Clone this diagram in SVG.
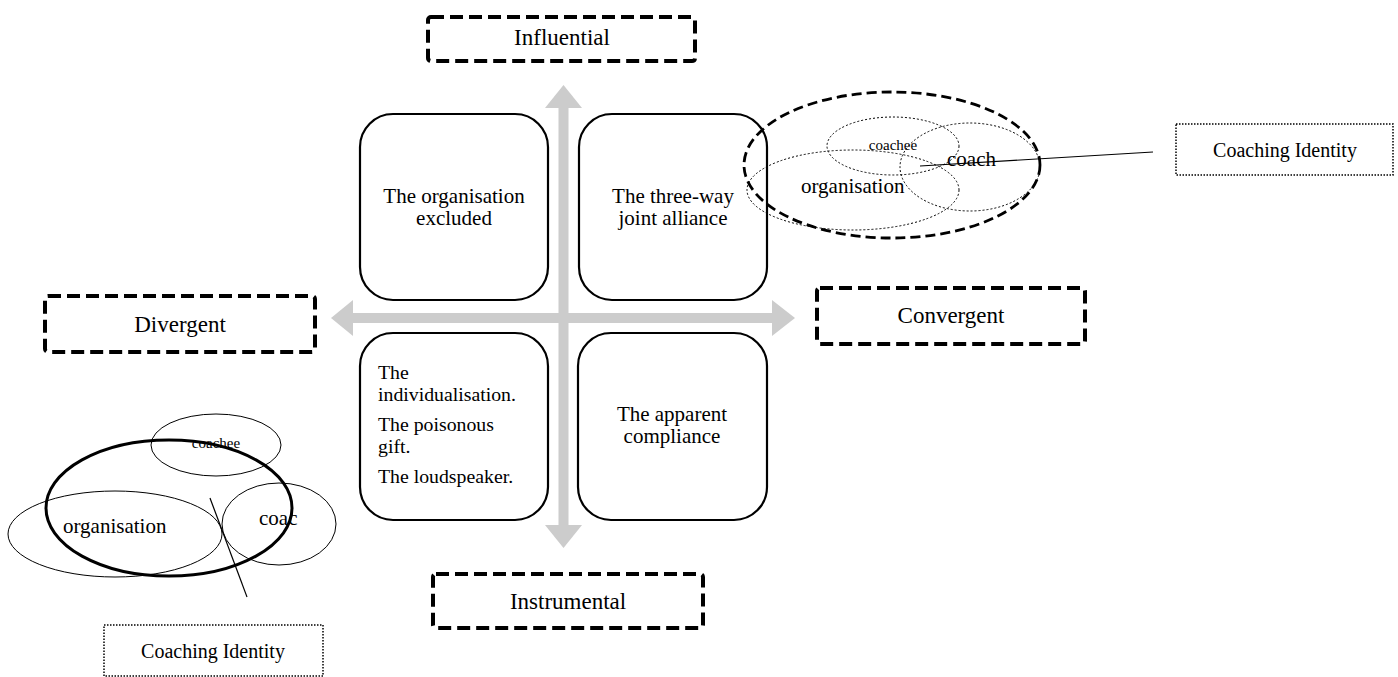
<svg xmlns="http://www.w3.org/2000/svg" width="1398" height="677" viewBox="0 0 1398 677">
<style>
text{font-family:"Liberation Serif","Times New Roman",serif;fill:#000}
.box{fill:#fff;stroke:#000;stroke-width:2.2}
.axis{fill:none;stroke:#000;stroke-width:4;stroke-dasharray:13 6}
.lab{font-size:23px;text-anchor:middle}
.bt{font-size:21px}
.bl{font-size:19.8px}
.c{text-anchor:middle}
.dot{fill:none;stroke:#000;stroke-width:1;stroke-dasharray:2 2}
.thin{fill:none;stroke:#000;stroke-width:1}
.idbox{fill:#fff;stroke:#000;stroke-width:1.5;stroke-dasharray:1.5 1.5}
</style>
<rect width="1398" height="677" fill="#fff"/>
<g id="connectors">
<path d="M563.5 108 L563.5 525" stroke="#ccc" stroke-width="10" fill="none"/>
<polygon points="563.5,85 545,108 582,108" fill="#ccc"/>
<polygon points="563.5,548 545,525 582,525" fill="#ccc"/>
<path d="M353 318 L772 318" stroke="#ccc" stroke-width="10" fill="none"/>
<polygon points="331,318 353,300 353,336" fill="#ccc"/>
<polygon points="795,318 772,300 772,336" fill="#ccc"/>
</g>
<g id="q-tl"><rect class="box" x="360" y="114" width="188" height="186" rx="33"/>
<text class="bt c" x="454" y="203">The organisation</text><text class="bt c" x="454" y="225">excluded</text></g>
<g id="q-tr"><rect class="box" x="579" y="114" width="188" height="186" rx="33"/>
<text class="bt c" x="673" y="203">The three-way</text><text class="bt c" x="673" y="225">joint alliance</text></g>
<g id="q-bl"><rect class="box" x="360" y="333" width="188" height="187" rx="33"/>
<text class="bl" x="378" y="379">The</text><text class="bl" x="378" y="401">individualisation.</text>
<text class="bl" x="378" y="431">The poisonous</text><text class="bl" x="378" y="453">gift.</text>
<text class="bl" x="378" y="483">The loudspeaker.</text></g>
<g id="q-br"><rect class="box" x="578" y="333" width="189" height="187" rx="33"/>
<text class="bt c" x="672" y="421">The apparent</text><text class="bt c" x="672" y="443">compliance</text></g>
<g id="influential"><rect class="axis" x="428" y="17" width="267" height="44" rx="3"/><text class="lab" x="562" y="45">Influential</text></g>
<g id="divergent"><rect class="axis" x="45" y="296" width="270" height="56" rx="3"/><text class="lab" x="180" y="332">Divergent</text></g>
<g id="convergent"><rect class="axis" x="817" y="288" width="268" height="56" rx="3"/><text class="lab" x="951" y="323">Convergent</text></g>
<g id="instrumental"><rect class="axis" x="433" y="574" width="270" height="54" rx="3"/><text class="lab" x="568" y="609">Instrumental</text></g>
<g id="venn-top">
<ellipse class="dot" cx="893" cy="146" rx="66" ry="29"/>
<ellipse class="dot" cx="970" cy="167" rx="70" ry="44"/>
<ellipse class="dot" cx="853" cy="190" rx="106" ry="40"/>
<text x="893" y="150" font-size="15" class="c">coachee</text>
<text x="947" y="166" font-size="21">coach</text>
<text x="801" y="193" font-size="21">organisation</text>
<ellipse cx="892" cy="165" rx="148" ry="73" fill="none" stroke="#000" stroke-width="2.8" stroke-dasharray="10 5"/>
<line x1="920" y1="166" x2="1153" y2="152" stroke="#000" stroke-width="1.2"/>
</g>
<g id="identity-right"><rect class="idbox" x="1176" y="124" width="217" height="51"/><text x="1285" y="157" font-size="20" class="c">Coaching Identity</text></g>
<g id="venn-bottom">
<ellipse class="thin" cx="216" cy="445" rx="65" ry="31"/>
<ellipse class="thin" cx="115" cy="534" rx="107" ry="43"/>
<ellipse class="thin" cx="279" cy="524" rx="57" ry="41"/>
<text x="216" y="448" font-size="15" class="c">coachee</text>
<text x="63" y="533" font-size="21">organisation</text>
<text x="259" y="525" font-size="21">coac</text>
<ellipse cx="169" cy="508" rx="123" ry="68" fill="none" stroke="#000" stroke-width="3"/>
<line x1="210" y1="498" x2="247" y2="597" stroke="#000" stroke-width="1.2"/>
</g>
<g id="identity-left"><rect class="idbox" x="104" y="625" width="219" height="51"/><text x="213" y="658" font-size="20" class="c">Coaching Identity</text></g>
</svg>
